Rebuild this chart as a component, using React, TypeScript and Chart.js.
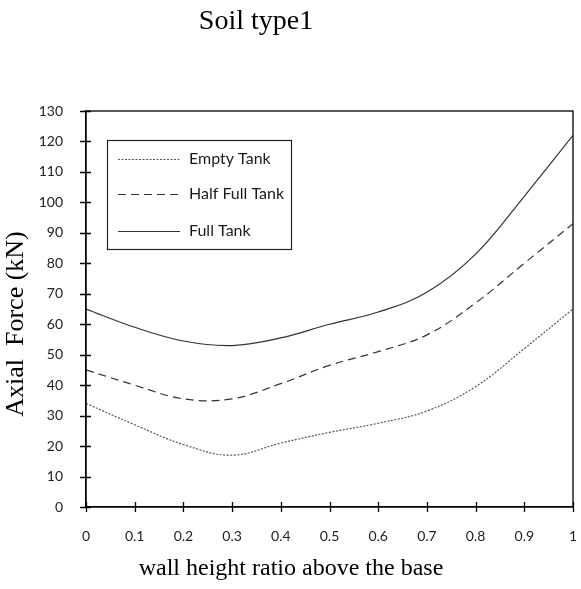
import React, { useEffect, useRef } from "react";
import { Chart, registerables } from "chart.js";

Chart.register(...registerables);

// Wall height ratio above the base (x) and axial force in kN (y)
const heightRatio = [0, 0.1, 0.2, 0.3, 0.4, 0.5, 0.6, 0.7, 0.8, 0.9, 1];
const emptyTank = [34, 27, 20.5, 17, 21, 24.5, 27.5, 31.5, 39.5, 52, 65];
const halfFullTank = [45, 40, 35.5, 35.5, 40.5, 46.5, 51, 56.5, 67, 80, 93];
const fullTank = [65, 59, 54.5, 53, 55.5, 60, 64, 70.5, 83, 102, 122];

const seriesNames = ["Empty Tank", "Half Full Tank", "Full Tank"];
const chartTitle = "Soil type1";
const xTitle = "wall height ratio above the base";
const yTitle = "Axial  Force (kN)";

const toPoints = (ys: number[]) => heightRatio.map((x, i) => ({ x, y: ys[i] }));

// Frame, crossing tick marks, boxed legend and serif titles
const decorations = {
  id: "decorations",
  afterDraw(chart: any) {
    const { ctx, chartArea: a, scales } = chart;
    ctx.save();

    ctx.strokeStyle = "#000";
    ctx.lineWidth = 1.3;
    ctx.strokeRect(a.left, a.top, a.right - a.left, a.bottom - a.top);

    ctx.beginPath();
    scales.y.ticks.forEach((t: any) => {
      const y = Math.round(scales.y.getPixelForValue(t.value)) + 0.5;
      ctx.moveTo(a.left - 6, y);
      ctx.lineTo(a.left + 5, y);
    });
    scales.x.ticks.forEach((t: any) => {
      const x = Math.round(scales.x.getPixelForValue(t.value)) + 0.5;
      ctx.moveTo(x, a.bottom - 5);
      ctx.lineTo(x, a.bottom + 5);
    });
    ctx.stroke();

    // legend box
    const box = { x: 107, y: 140, w: 184, h: 109 };
    ctx.fillStyle = "#fff";
    ctx.fillRect(box.x, box.y, box.w, box.h);
    ctx.lineWidth = 1.2;
    ctx.strokeStyle = "#222";
    ctx.strokeRect(box.x + 0.5, box.y + 0.5, box.w, box.h);
    const rows = [159, 194, 231];
    chart.data.datasets.forEach((ds: any, i: number) => {
      ctx.save();
      ctx.strokeStyle = ds.borderColor;
      ctx.lineWidth = ds.borderWidth;
      ctx.setLineDash(ds.borderDash || []);
      ctx.beginPath();
      ctx.moveTo(118, rows[i] + 0.5);
      ctx.lineTo(180, rows[i] + 0.5);
      ctx.stroke();
      ctx.restore();
      ctx.fillStyle = "#1a1a1a";
      ctx.font = "16px Lato";
      ctx.textAlign = "left";
      ctx.textBaseline = "middle";
      ctx.fillText(ds.label, 189, rows[i]);
    });

    ctx.fillStyle = "#000";
    ctx.textAlign = "center";
    ctx.textBaseline = "middle";
    ctx.font = "28px 'Liberation Serif'";
    ctx.fillText(chartTitle, 256, 22);
    ctx.font = "24px 'Liberation Serif'";
    ctx.fillText(xTitle, 291, 569);
    ctx.save();
    ctx.translate(16, 324);
    ctx.rotate(-Math.PI / 2);
    ctx.font = "26px 'Liberation Serif'";
    ctx.fillText(yTitle, 0, 0);
    ctx.restore();

    ctx.restore();
  },
};

export default function App() {
  const canvasRef = useRef<HTMLCanvasElement | null>(null);

  useEffect(() => {
    if (!canvasRef.current) return;
    const lineBase = { fill: false, pointRadius: 0, tension: 0.38, borderWidth: 1.2 };
    const chart = new Chart(canvasRef.current, {
      type: "line",
      data: {
        datasets: [
          { ...lineBase, label: seriesNames[0], data: toPoints(emptyTank), borderColor: "#555", borderDash: [2, 1.5] },
          { ...lineBase, label: seriesNames[1], data: toPoints(halfFullTank), borderColor: "#333", borderDash: [8, 5] },
          { ...lineBase, label: seriesNames[2], data: toPoints(fullTank), borderColor: "#333", borderDash: [] },
        ],
      },
      options: {
        animation: false,
        responsive: false,
        layout: { padding: { left: 0, right: 8, top: 111, bottom: 0 } },
        plugins: { legend: { display: false }, title: { display: false }, tooltip: { enabled: false } },
        scales: {
          x: {
            type: "linear",
            min: 0,
            max: 1,
            grid: { display: false, drawTicks: true, tickLength: 21 },
            border: { display: true, color: "#000", width: 1.3 },
            ticks: {
              stepSize: 0.1,
              padding: 0,
              color: "#222",
              font: { family: "Lato", size: 14 },
              maxRotation: 0,
              callback: (v: any) => String(Math.round(Number(v) * 10) / 10),
            },
            afterFit: (scale: any) => {
              scale.height = 82;
              scale.paddingLeft = 0;
              scale.paddingRight = 0;
            },
          },
          y: {
            min: 0,
            max: 130,
            grid: { display: false, drawTicks: false },
            border: { display: true, color: "#000", width: 1.3 },
            ticks: {
              stepSize: 10,
              padding: 23,
              color: "#222",
              font: { family: "Lato", size: 14 },
            },
            afterFit: (scale: any) => {
              scale.width = 86;
              scale.paddingTop = 0;
              scale.paddingBottom = 0;
            },
          },
        },
      },
      plugins: [decorations],
    });
    return () => chart.destroy();
  }, []);

  return (
    <div style={{ position: "absolute", left: 0, top: 0, width: 581, height: 589, background: "#fff" }}>
      <canvas ref={canvasRef} width={581} height={589} style={{ display: "block" }} />
    </div>
  );
}
